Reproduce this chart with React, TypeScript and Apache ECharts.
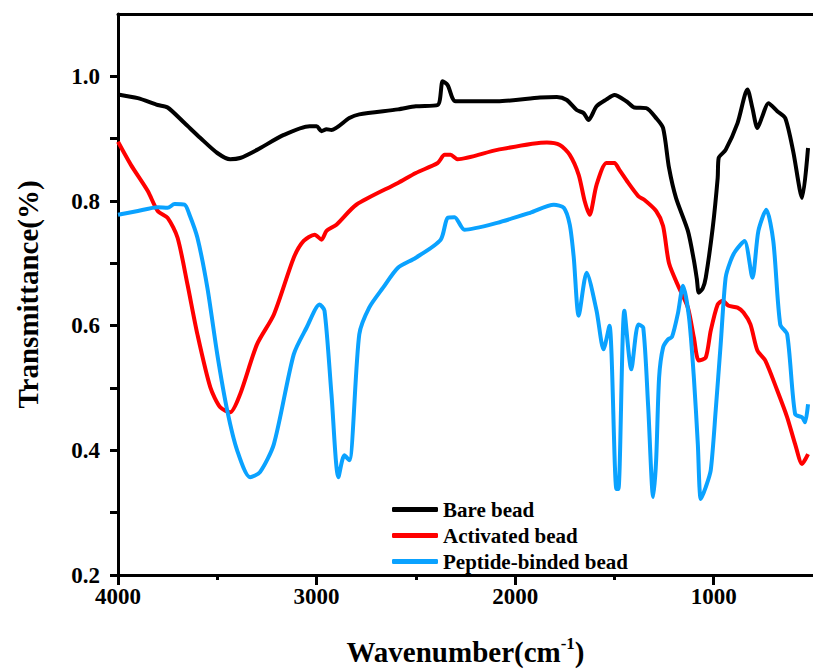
import React, { useEffect, useRef } from 'react';
import * as echarts from 'echarts';

const seriesNames = ['Bare bead', 'Activated bead', 'Peptide-binded bead'];
const seriesColors = ['#000000', '#ff0000', '#0aa2ff'];

const bareWn = [4000, 3900, 3800, 3750, 3665, 3585, 3500, 3435, 3385, 3300, 3165, 3035, 3000, 2975, 2950, 2925, 2835, 2785, 2590, 2500, 2390, 2365, 2340, 2300, 2090, 1875, 1790, 1740, 1690, 1655, 1630, 1590, 1540, 1500, 1440, 1400, 1340, 1290, 1255, 1225, 1190, 1130, 1100, 1085, 1075, 1055, 1040, 1005, 980, 975, 940, 880, 830, 805, 780, 755, 725, 680, 640, 600, 555, 525];
const bareT = [0.971, 0.965, 0.954, 0.95, 0.925, 0.901, 0.877, 0.867, 0.869, 0.882, 0.906, 0.92, 0.92, 0.912, 0.915, 0.914, 0.933, 0.939, 0.947, 0.952, 0.954, 0.992, 0.986, 0.96, 0.96, 0.966, 0.967, 0.962, 0.946, 0.941, 0.93, 0.952, 0.963, 0.97, 0.96, 0.95, 0.949, 0.933, 0.917, 0.853, 0.805, 0.752, 0.705, 0.675, 0.653, 0.66, 0.677, 0.757, 0.837, 0.869, 0.882, 0.925, 0.979, 0.949, 0.917, 0.936, 0.957, 0.944, 0.933, 0.88, 0.805, 0.885];

const actWn = [4000, 3935, 3850, 3800, 3750, 3700, 3650, 3600, 3535, 3485, 3435, 3385, 3300, 3215, 3115, 3065, 3010, 2975, 2950, 2900, 2800, 2590, 2500, 2390, 2355, 2325, 2290, 2090, 1840, 1775, 1725, 1680, 1650, 1625, 1590, 1540, 1500, 1475, 1430, 1380, 1350, 1290, 1255, 1225, 1175, 1130, 1100, 1075, 1040, 1015, 980, 955, 925, 880, 850, 815, 780, 740, 680, 630, 590, 555, 525];
const actT = [0.895, 0.858, 0.816, 0.784, 0.773, 0.741, 0.666, 0.586, 0.501, 0.469, 0.461, 0.49, 0.57, 0.618, 0.709, 0.736, 0.746, 0.738, 0.752, 0.762, 0.794, 0.829, 0.845, 0.861, 0.874, 0.874, 0.867, 0.882, 0.894, 0.89, 0.874, 0.842, 0.8, 0.778, 0.826, 0.861, 0.861, 0.85, 0.829, 0.808, 0.802, 0.784, 0.76, 0.7, 0.661, 0.629, 0.581, 0.544, 0.549, 0.592, 0.634, 0.64, 0.632, 0.629, 0.621, 0.602, 0.56, 0.544, 0.496, 0.453, 0.41, 0.378, 0.394];

const pepWn = [4000, 3900, 3800, 3750, 3715, 3665, 3640, 3600, 3550, 3500, 3450, 3400, 3335, 3285, 3215, 3115, 3050, 2985, 2960, 2925, 2890, 2860, 2835, 2785, 2735, 2665, 2590, 2500, 2375, 2340, 2305, 2255, 2090, 1925, 1805, 1755, 1725, 1705, 1680, 1640, 1590, 1555, 1525, 1490, 1480, 1450, 1415, 1380, 1355, 1330, 1305, 1290, 1275, 1255, 1230, 1210, 1180, 1155, 1125, 1100, 1080, 1065, 1040, 1015, 990, 965, 940, 915, 890, 845, 805, 775, 735, 700, 665, 630, 590, 555, 540, 525];
const pepT = [0.778, 0.784, 0.79, 0.789, 0.795, 0.794, 0.778, 0.741, 0.661, 0.554, 0.464, 0.4, 0.357, 0.365, 0.41, 0.554, 0.597, 0.634, 0.624, 0.49, 0.357, 0.392, 0.384, 0.586, 0.629, 0.661, 0.693, 0.709, 0.738, 0.773, 0.774, 0.754, 0.765, 0.781, 0.794, 0.789, 0.762, 0.71, 0.616, 0.685, 0.624, 0.562, 0.6, 0.338, 0.338, 0.624, 0.53, 0.602, 0.597, 0.47, 0.325, 0.384, 0.517, 0.565, 0.578, 0.582, 0.62, 0.664, 0.615, 0.517, 0.41, 0.322, 0.341, 0.368, 0.464, 0.57, 0.677, 0.704, 0.72, 0.736, 0.677, 0.752, 0.786, 0.736, 0.602, 0.586, 0.458, 0.453, 0.445, 0.474];

const xMajorTicks = [1000, 2000, 3000, 4000];
const xMinorTicks = [1500, 2500, 3500];
const yTicks = [0.2, 0.3, 0.4, 0.5, 0.6, 0.7, 0.8, 0.9, 1.0];
const yLabels = [0.2, 0.4, 0.6, 0.8, 1.0];

const zip = (xs: number[], ys: number[]) => xs.map((x, i) => [x, ys[i]]);

export default function App() {
  const ref = useRef<HTMLDivElement>(null);
  useEffect(() => {
    document.body.style.margin = '0';
    const chart = echarts.init(ref.current!, null, { renderer: 'svg' });
    const font = '"Liberation Serif", "Times New Roman", serif';
    const axisLineStyle = { color: '#000', width: 3 };
    const seriesData = [zip(bareWn, bareT), zip(actWn, actT), zip(pepWn, pepT)];
    chart.setOption({
      animation: false,
      backgroundColor: '#fff',
      grid: { left: 118, right: -5, top: 14, bottom: 92 },
      legend: {
        orient: 'vertical',
        left: 392,
        top: 499,
        padding: 0,
        itemGap: 5,
        itemWidth: 46,
        itemHeight: 5,
        icon: 'roundRect',
        data: seriesNames,
        textStyle: { fontFamily: font, fontWeight: 'bold', fontSize: 21, color: '#000' },
      },
      xAxis: [
        {
          type: 'value',
          inverse: true,
          min: 500,
          max: 4000,
          position: 'bottom',
          axisLine: { onZero: false, lineStyle: axisLineStyle },
          axisTick: { customValues: xMajorTicks, length: 10, lineStyle: axisLineStyle },
          axisLabel: {
            customValues: xMajorTicks,
            formatter: (v: number) => String(Math.round(v)),
            color: '#000',
            fontFamily: font,
            fontWeight: 'bold',
            fontSize: 23,
            margin: 10,
          },
          splitLine: { show: false },
          name: '{a|Wavenumber(cm}{b|-1}{a|)}',
          nameLocation: 'middle',
          nameGap: 60,
          nameTextStyle: {
            rich: {
              a: { fontFamily: font, fontWeight: 'bold', fontSize: 29, color: '#000' },
              b: { fontFamily: font, fontWeight: 'bold', fontSize: 17, color: '#000', padding: [0, 0, 16, 0] },
            },
          },
        },
        {
          type: 'value',
          inverse: true,
          min: 500,
          max: 4000,
          position: 'bottom',
          axisLine: { show: false, onZero: false },
          axisTick: { customValues: xMinorTicks, length: 5, lineStyle: axisLineStyle },
          axisLabel: { show: false },
          splitLine: { show: false },
        },
        {
          type: 'value',
          inverse: true,
          min: 500,
          max: 4000,
          position: 'top',
          axisLine: { onZero: false, lineStyle: axisLineStyle },
          axisTick: { show: false },
          axisLabel: { show: false },
          splitLine: { show: false },
        },
      ],
      yAxis: {
        type: 'value',
        min: 0.2,
        max: 1.1,
        axisLine: { show: true, onZero: false, lineStyle: axisLineStyle },
        axisTick: { show: true, customValues: yTicks, length: 8, lineStyle: axisLineStyle },
        axisLabel: {
          customValues: yLabels,
          formatter: (v: number) => v.toFixed(1),
          color: '#000',
          fontFamily: font,
          fontWeight: 'bold',
          fontSize: 23,
          margin: 18,
        },
        splitLine: { show: false },
        name: 'Transmittance(%)',
        nameLocation: 'middle',
        nameGap: 76,
        nameTextStyle: { fontFamily: font, fontWeight: 'bold', fontSize: 29, color: '#000' },
      },
      series: seriesNames.map((name, i) => ({
        name,
        type: 'line',
        xAxisIndex: 0,
        yAxisIndex: 0,
        data: seriesData[i],
        symbol: 'none',
        showSymbol: false,
        smooth: 0.25,
        color: seriesColors[i],
        lineStyle: { width: 4, color: seriesColors[i] },
      })),
    });
    return () => chart.dispose();
  }, []);
  return <div ref={ref} style={{ width: 813, height: 671 }} />;
}
